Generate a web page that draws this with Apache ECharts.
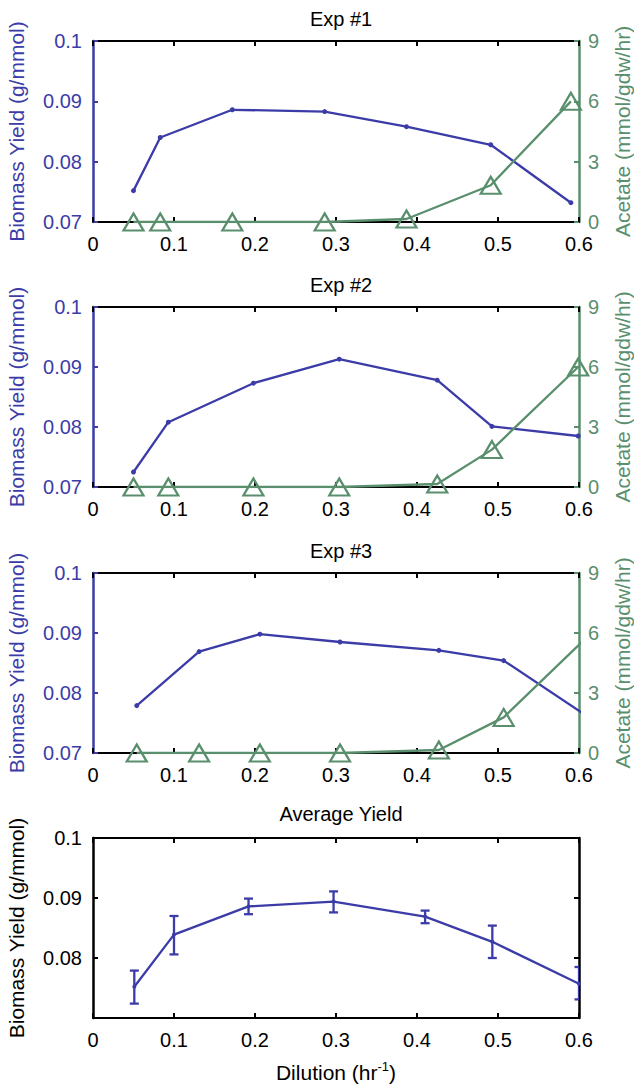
<!DOCTYPE html>
<html><head><meta charset="utf-8">
<script src="https://cdn.jsdelivr.net/npm/echarts@6/dist/echarts.min.js"></script>
<style>html,body{margin:0;padding:0;background:#fff}#c{width:634px;height:1089px}</style>
</head><body><div id="c"></div>
<script>
const panelTitles = ['Exp #1', 'Exp #2', 'Exp #3', 'Average Yield'];
const dilutionTicks = [0, 0.1, 0.2, 0.3, 0.4, 0.5, 0.6];
const yieldTicks = [0.07, 0.08, 0.09, 0.1];
const acetateTicks = [0, 3, 6, 9];

const exp1Dilution = [0.050, 0.083, 0.172, 0.286, 0.387, 0.491, 0.590];
const exp1Yield    = [0.0752, 0.0840, 0.0886, 0.0883, 0.0858, 0.0828, 0.0732];
const exp1Acetate  = [0, 0, 0, 0, 0.15, 1.83, 6.0];

const exp2Dilution = [0.050, 0.093, 0.198, 0.304, 0.425, 0.4925, 0.599];
const exp2Yield    = [0.0725, 0.0808, 0.0873, 0.0913, 0.0878, 0.0801, 0.0785];
const exp2Acetate  = [0, 0, 0, 0, 0.15, 1.87, 6.0];

const exp3Dilution = [0.054, 0.131, 0.206, 0.305, 0.427, 0.507, 0.615];
const exp3Yield    = [0.0779, 0.0869, 0.0898, 0.0885, 0.0871, 0.0854, 0.0757];
const exp3Acetate  = [0, 0, 0, 0, 0.15, 1.78, 6.0];

const avgDilution  = [0.051, 0.100, 0.192, 0.297, 0.410, 0.493, 0.600];
const avgYield     = [0.0752, 0.0839, 0.0886, 0.0894, 0.0869, 0.0827, 0.0757];
const avgErrLow    = [0.0724, 0.0806, 0.0873, 0.0876, 0.0858, 0.0800, 0.0731];
const avgErrHigh   = [0.0779, 0.0870, 0.0899, 0.0911, 0.0879, 0.0854, 0.0785];

const BLUE = '#3c3ca8';
const GREEN = '#5a8f6e';
const FONT = 'Liberation Sans, Arial, Helvetica, sans-serif';
const TICK_FS = 20;
const NAME_FS = 21;
const TITLE_FS = 20;

const grids = [
  {left: 93, top: 41, width: 486, height: 181, outerBoundsMode: 'none', containLabel: false},
  {left: 93, top: 307, width: 486, height: 180, outerBoundsMode: 'none', containLabel: false},
  {left: 93, top: 573, width: 486, height: 180, outerBoundsMode: 'none', containLabel: false},
  {left: 93, top: 838, width: 486, height: 180, outerBoundsMode: 'none', containLabel: false}
];

function fmtTick(ticks) {
  return function (v) {
    for (const t of ticks) if (Math.abs(t - v) < 1e-9) return String(t);
    return '';
  };
}

const xAxes = [], yAxes = [], series = [], titles = [];
const exps = [
  [exp1Dilution, exp1Yield, exp1Acetate],
  [exp2Dilution, exp2Yield, exp2Acetate],
  [exp3Dilution, exp3Yield, exp3Acetate]
];

for (let i = 0; i < 4; i++) {
  const isAvg = i === 3;
  const leftColor = isAvg ? '#000' : BLUE;
  titles.push({
    text: panelTitles[i], left: 336, textAlign: 'center',
    top: grids[i].top - (isAvg ? 39 : 37),
    textStyle: {fontSize: TITLE_FS, fontWeight: 'normal', color: '#000', fontFamily: FONT}
  });
  xAxes.push({
    type: 'value', gridIndex: i, position: 'bottom', min: 0, max: 0.6, interval: 0.1,
    axisLine: {onZero: false, lineStyle: {color: '#000', width: 2}},
    axisTick: {inside: true, length: 5, lineStyle: {color: '#000', width: 2}},
    axisLabel: {color: '#000', fontSize: TICK_FS, fontFamily: FONT, margin: 12, formatter: fmtTick(dilutionTicks)},
    splitLine: {show: false},
    name: isAvg ? '{a|Dilution (hr}{s|-1}{a|)}' : '',
    nameLocation: 'middle', nameGap: 42,
    nameTextStyle: {rich: {
      a: {fontSize: NAME_FS, fontFamily: FONT, color: '#000'},
      s: {fontSize: 13, fontFamily: FONT, color: '#000', verticalAlign: 'top', padding: [0, 0, 12, 0]}
    }}
  });
  xAxes.push({
    type: 'value', gridIndex: i, position: 'top', min: 0, max: 0.6, interval: 0.1,
    axisLine: {onZero: false, lineStyle: {color: '#000', width: 2}},
    axisTick: {inside: true, length: 5, lineStyle: {color: '#000', width: 2}},
    axisLabel: {show: false}, splitLine: {show: false}
  });
  yAxes.push({
    type: 'value', gridIndex: i, position: 'left', min: 0.07, max: 0.1, interval: 0.01,
    axisLine: {show: true, onZero: false, lineStyle: {color: leftColor, width: 2.5}},
    axisTick: {show: true, inside: true, length: 5, lineStyle: {color: leftColor, width: 2}},
    axisLabel: {color: leftColor, fontSize: TICK_FS, fontFamily: FONT, margin: 11,
      showMinLabel: !isAvg, formatter: fmtTick(yieldTicks)},
    splitLine: {show: false},
    name: 'Biomass Yield (g/mmol)', nameLocation: 'middle', nameGap: 66, nameRotate: 90,
    nameTextStyle: {color: leftColor, fontSize: NAME_FS, fontFamily: FONT}
  });
  if (!isAvg) {
    yAxes.push({
      type: 'value', gridIndex: i, position: 'right', min: 0, max: 9, interval: 3,
      axisLine: {show: true, onZero: false, lineStyle: {color: GREEN, width: 2.5}},
      axisTick: {show: true, inside: true, length: 5, lineStyle: {color: GREEN, width: 2}},
      axisLabel: {color: GREEN, fontSize: TICK_FS, fontFamily: FONT, margin: 9, formatter: fmtTick(acetateTicks)},
      splitLine: {show: false},
      name: 'Acetate (mmol/gdw/hr)', nameLocation: 'middle', nameGap: 33, nameRotate: 90,
      nameTextStyle: {color: GREEN, fontSize: NAME_FS, fontFamily: FONT}
    });
  } else {
    yAxes.push({
      type: 'value', gridIndex: i, position: 'right', min: 0.07, max: 0.1, interval: 0.01,
      axisLine: {show: true, onZero: false, lineStyle: {color: '#000', width: 2.5}},
      axisTick: {show: true, inside: true, length: 5, lineStyle: {color: '#000', width: 2}},
      axisLabel: {show: false}, splitLine: {show: false}
    });
  }
}

for (let i = 0; i < 3; i++) {
  const [d, y, a] = exps[i];
  series.push({
    type: 'line', xAxisIndex: 2 * i, yAxisIndex: 2 * i, clip: true,
    data: d.map((x, k) => [x, y[k]]),
    symbol: 'circle', symbolSize: 5, showAllSymbol: true,
    lineStyle: {color: BLUE, width: 2.3}, itemStyle: {color: BLUE},
    emphasis: {disabled: true}, z: 3
  });
  series.push({
    type: 'line', xAxisIndex: 2 * i, yAxisIndex: 2 * i + 1, clip: true,
    data: d.map((x, k) => [x, a[k]]),
    symbol: 'triangle', symbolSize: [20, 17], showAllSymbol: true,
    lineStyle: {color: GREEN, width: 2.3},
    itemStyle: {color: 'rgba(255,255,255,0)', borderColor: GREEN, borderWidth: 2.2},
    emphasis: {disabled: true}, z: 4
  });
}

series.push({
  type: 'line', xAxisIndex: 6, yAxisIndex: 6, clip: true,
  data: avgDilution.map((x, k) => [x, avgYield[k]]),
  symbol: 'circle', symbolSize: 4, showAllSymbol: true,
  lineStyle: {color: BLUE, width: 2.3}, itemStyle: {color: BLUE},
  emphasis: {disabled: true}, z: 3
});
series.push({
  type: 'custom', xAxisIndex: 6, yAxisIndex: 6, clip: true,
  data: avgDilution.map((x, k) => [x, avgYield[k], avgErrLow[k], avgErrHigh[k]]),
  renderItem: function (params, api) {
    const x = api.value(0);
    const top = api.coord([x, api.value(3)]);
    const bot = api.coord([x, api.value(2)]);
    const w = 4.5;
    const st = {stroke: BLUE, lineWidth: 2.3};
    return {type: 'group', children: [
      {type: 'line', shape: {x1: top[0], y1: top[1], x2: bot[0], y2: bot[1]}, style: st},
      {type: 'line', shape: {x1: top[0] - w, y1: top[1], x2: top[0] + w, y2: top[1]}, style: st},
      {type: 'line', shape: {x1: bot[0] - w, y1: bot[1], x2: bot[0] + w, y2: bot[1]}, style: st}
    ]};
  },
  z: 3
});

const chart = echarts.init(document.getElementById('c'), null, {renderer: 'svg'});
chart.setOption({
  animation: false,
  backgroundColor: '#fff',
  title: titles,
  grid: grids,
  xAxis: xAxes,
  yAxis: yAxes,
  series: series
});
</script>
</body></html>
